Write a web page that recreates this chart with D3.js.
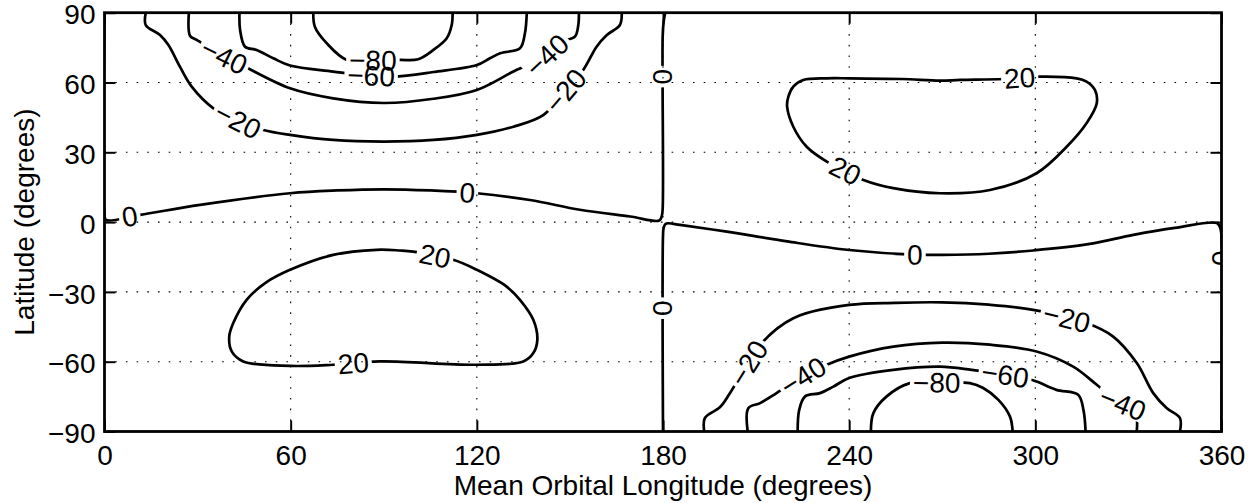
<!DOCTYPE html>
<html>
<head>
<meta charset="utf-8">
<script src="https://cdn.jsdelivr.net/npm/d3@7"></script>
<style>
  body { margin: 0; background: #fff; }
</style>
</head>
<body>
<script>
const width = 1256, height = 503;

const xTicks = [0, 60, 120, 180, 240, 300, 360];
const yTicks = [-90, -60, -30, 0, 30, 60, 90];

// contour paths, [mean orbital longitude, latitude]
const zeroWest = [[0,90],[0,3],[0.5,0.9],[11.5,3.1],[30.8,7.4],[59.8,12.4],[75,13.6],[90,14.1],[105,13.6],[120,12.4],[137.1,9.5],[153.2,5.3],[169.4,2.4],[178.8,0.65],[179.6,2.5],[179.9,6],[179.9,80],[180.2,86],[180.7,90]];
const zeroEast = [[180,-90],[180,-6],[180.2,-2.5],[180.8,-0.8],[181.7,-0.5],[185.5,-1.2],[200,-4],[220,-8.3],[240,-12],[261,-14],[270,-14.1],[285,-13.6],[299.3,-12.2],[317,-9.5],[331.6,-5.5],[345,-2.5],[358.5,-0.4],[359.6,-2.5],[360,-6],[360,-90]];

const pos20South = [[40.2,-49.2],[41.5,-43.4],[45.8,-33.4],[52,-26],[59.8,-20.5],[73.7,-14.1],[87.7,-11.9],[95.2,-12.2],[99.5,-12.7],[112.4,-16.2],[120,-20.5],[129.6,-27.7],[133.9,-33.4],[138.2,-42],[139.5,-50.6],[138.2,-56.3],[135,-59.9],[120,-61.3],[88.8,-59.9],[73.7,-61.3],[59.8,-61.8],[44.7,-59.9],[41,-55.6]];
const pos20North = [[220,49.6],[220.4,53.9],[222,58.2],[225.2,61.1],[232.8,61.8],[240,61.8],[257,61.5],[269.3,60.8],[275.7,61.1],[289.7,61.5],[301.5,62.5],[313.3,61.8],[316.5,60.4],[319.2,56.8],[319.8,51.1],[316.5,42.5],[310.1,32.4],[300.4,21],[285.4,13.8],[269.3,12.4],[254.2,14.6],[244.6,18.1],[232.8,26],[226.3,32.4],[222,41]];

const neg20North = [[13.3,90],[13.3,84.7],[17.9,80.4],[20.6,76.1],[24.3,66.8],[28.1,58.2],[35.1,48.9],[43,43.5],[51.2,39.6],[59.8,37.5],[73.7,35.3],[90,34.6],[106,35.3],[120,37.5],[131.8,41],[141.4,46],[148,55.5],[154.3,65.4],[158.6,75.4],[161.9,80.4],[166.1,84.7],[166.7,90]];
const neg40North = [[27.2,90],[27.6,80],[29.7,78.3],[38,71.5],[44.2,67.5],[59.8,57.5],[73.7,53.2],[90,51.2],[106,53],[120,56.8],[131.8,64.7],[142.5,71.5],[147.3,77.5],[151.6,79.7],[152.7,84.7],[152.9,90]];
const neg60North = [[43.5,90],[43.7,82.6],[45.3,75.4],[49,74],[54.4,70.4],[59.8,67.3],[73.7,64.7],[84,63],[93.1,62.5],[106,64.5],[120,67.5],[124.2,70.4],[127.5,72.6],[133.9,74.7],[135.5,81.2],[136.1,90]];
const neg80North = [[67.3,90],[67.8,84],[71.6,76.9],[78.1,69.7],[88,69.5],[95.2,69.7],[101.1,70],[106,74],[110.3,79],[111.9,84.7],[112.2,90]];

const neg20South = [[193.3,-90],[193.5,-84.2],[198.4,-79.5],[201.6,-73.5],[211.3,-52.7],[222,-41.3],[240,-35.6],[255,-34.7],[270,-34.5],[285,-35.5],[299.3,-37.7],[316.5,-43.4],[325.1,-49.2],[332.7,-60.6],[338,-73.5],[342.3,-79.9],[346.6,-84.2],[346.6,-90]];
const neg40South = [[207.3,-90],[207.5,-80],[211.3,-77.8],[216.6,-73.5],[225.2,-66.3],[232.8,-61.3],[240,-57.8],[254.2,-53.5],[270,-51.8],[285.4,-52.7],[300.4,-55.6],[312.2,-62.1],[319.8,-69.9],[327,-77.5],[331.6,-80],[332.7,-84.2],[332.7,-90]];
const neg60South = [[223.4,-90],[223.9,-80.7],[225.8,-74.9],[230.6,-73.5],[234.9,-70.7],[240,-67],[254.2,-63.5],[269.3,-62.1],[279.5,-63.5],[296.7,-67],[300.4,-68.5],[306.8,-72.1],[313.8,-74.2],[315.5,-80.7],[316.2,-90]];
const neg80South = [[247,-90],[247.8,-82.1],[252.1,-74.9],[259.6,-69.2],[268,-69],[278.9,-69.2],[283.2,-71.3],[288.1,-76.4],[291.8,-83.5],[292.7,-90]];

const contourLines = [
  {level: 0, pts: zeroWest}, {level: 0, pts: zeroEast},
  {level: 20, pts: pos20South, closed: true}, {level: 20, pts: pos20North, closed: true},
  {level: -20, pts: neg20North}, {level: -40, pts: neg40North},
  {level: -60, pts: neg60North}, {level: -80, pts: neg80North},
  {level: -20, pts: neg20South}, {level: -40, pts: neg40South},
  {level: -60, pts: neg60South}, {level: -80, pts: neg80South}
];

// inline label anchors, [lon, lat, level]
const contourLabels = [
  [8.2,1.7,0],[116.9,11.7,0],[261.2,-14.1,0],[180,62.5,0],[180,-37,0],[360,-15.5,0],
  [106.5,-14.8,20],[80.2,-61.3,20],[238.6,21.7,20],[295,61.1,20],
  [42.6,42.5,-20],[149.5,55.4,-20],[207.5,-60.6,-20],[310.1,-41.3,-20],
  [38.3,70.4,-40],[142.5,71.8,-40],[225.2,-66.3,-40],[327.8,-79.2,-40],
  [85.9,61.9,-60],[290.2,-66.3,-60],
  [86.5,69.2,-80],[268.2,-70,-80]
];

const x = d3.scaleLinear().domain([0, 360]).range([104.5, 1221.5]);
const y = d3.scaleLinear().domain([-90, 90]).range([431.5, 12.7]);

const svg = d3.select("body").append("svg")
  .attr("width", width)
  .attr("height", height)
  .style("font-family", "'Liberation Sans', Arial, Helvetica, sans-serif");

const defs = svg.append("defs");
defs.append("clipPath").attr("id", "plotClip")
  .append("rect")
  .attr("x", x(0)).attr("y", y(90))
  .attr("width", x(360) - x(0)).attr("height", y(-90) - y(90));
const gapMask = defs.append("mask").attr("id", "labelGaps")
  .attr("maskUnits", "userSpaceOnUse")
  .attr("x", 0).attr("y", 0).attr("width", width).attr("height", height);
gapMask.append("rect").attr("width", width).attr("height", height).attr("fill", "#fff");

// dotted grid
const grid = svg.append("g").attr("stroke", "#000").attr("stroke-width", 1.1)
  .attr("stroke-dasharray", "1.6,9.1");
grid.selectAll(".gx").data(xTicks.slice(1, -1)).join("line")
  .attr("x1", d => x(d)).attr("x2", d => x(d))
  .attr("y1", y(90)).attr("y2", y(-90));
grid.selectAll(".gy").data(yTicks.slice(1, -1)).join("line")
  .attr("x1", x(0)).attr("x2", x(360))
  .attr("y1", d => y(d)).attr("y2", d => y(d));

// contours
const plot = svg.append("g").attr("clip-path", "url(#plotClip)");
const openLine = d3.line().x(d => x(d[0])).y(d => y(d[1])).curve(d3.curveCatmullRom.alpha(0.5));
const loopLine = d3.line().x(d => x(d[0])).y(d => y(d[1])).curve(d3.curveCatmullRomClosed.alpha(0.5));

plot.append("g").attr("mask", "url(#labelGaps)")
  .selectAll("path").data(contourLines).join("path")
  .attr("d", d => d.closed ? loopLine(d.pts) : openLine(d.pts))
  .attr("fill", "none")
  .attr("stroke", "#000")
  .attr("stroke-width", 2.7)
  .attr("stroke-linejoin", "round");

// snap a label onto its nearest contour segment and take that segment's direction
function placeLabel(lon, lat, level) {
  const px = x(lon), py = y(lat);
  let best = null;
  contourLines.filter(c => c.level === level).forEach(c => {
    const p = c.pts.map(d => [x(d[0]), y(d[1])]);
    if (c.closed) p.push(p[0]);
    for (let i = 0; i < p.length - 1; i++) {
      const [ax, ay] = p[i], [bx, by] = p[i + 1];
      const dx = bx - ax, dy = by - ay;
      const L2 = dx * dx + dy * dy || 1;
      const t = Math.max(0, Math.min(1, ((px - ax) * dx + (py - ay) * dy) / L2));
      const qx = ax + t * dx, qy = ay + t * dy;
      const dist = Math.hypot(px - qx, py - qy);
      if (!best || dist < best.dist) best = {dist, qx, qy, ang: Math.atan2(dy, dx) * 180 / Math.PI};
    }
  });
  let a = best.ang;
  if (a > 90) a -= 180;
  if (a <= -90) a += 180;
  return {x: best.qx, y: best.qy, angle: a};
}

const fmt = v => v < 0 ? "\u2212" + Math.abs(v) : String(v);
const labelLayer = plot.append("g").attr("font-size", 28).attr("fill", "#000");

contourLabels.forEach(([lon, lat, level]) => {
  const pl = placeLabel(lon, lat, level);
  const tf = `translate(${pl.x},${pl.y}) rotate(${pl.angle})`;
  const t = labelLayer.append("text")
    .attr("transform", tf)
    .attr("text-anchor", "middle")
    .attr("dy", "0.35em")
    .text(fmt(level));
  const len = t.node().getComputedTextLength();
  gapMask.append("rect")
    .attr("transform", tf)
    .attr("x", -len / 2 - 3).attr("y", -11)
    .attr("width", len + 6).attr("height", 22)
    .attr("fill", "#000");
});

// axes box, inward ticks on all sides
const axisStyle = g => {
  g.select(".domain").remove();
  g.selectAll(".tick line").attr("stroke", "#000").attr("stroke-width", 2);
  g.selectAll("text").attr("font-size", 28).attr("fill", "#000")
    .attr("font-family", "'Liberation Sans', Arial, Helvetica, sans-serif");
};

svg.append("g").attr("transform", `translate(0,${y(-90)})`)
  .call(d3.axisBottom(x).tickValues(xTicks).tickSize(-11).tickPadding(13.5))
  .call(axisStyle);
svg.append("g").attr("transform", `translate(0,${y(90)})`)
  .call(d3.axisTop(x).tickValues(xTicks).tickSize(-11).tickFormat(""))
  .call(axisStyle);
svg.append("g").attr("transform", `translate(${x(0)},0)`)
  .call(d3.axisLeft(y).tickValues(yTicks).tickSize(-11).tickPadding(9))
  .call(axisStyle)
  .call(g => g.selectAll("text").attr("dy", "0.4em"));
svg.append("g").attr("transform", `translate(${x(360)},0)`)
  .call(d3.axisRight(y).tickValues(yTicks).tickSize(-11).tickFormat(""))
  .call(axisStyle);

svg.append("rect")
  .attr("x", x(0)).attr("y", y(90))
  .attr("width", x(360) - x(0)).attr("height", y(-90) - y(90))
  .attr("fill", "none").attr("stroke", "#000").attr("stroke-width", 2.8);

svg.append("text")
  .attr("x", (x(0) + x(360)) / 2).attr("y", 495)
  .attr("text-anchor", "middle").attr("font-size", 28)
  .text("Mean Orbital Longitude (degrees)");

svg.append("text")
  .attr("transform", `translate(34,${(y(90) + y(-90)) / 2}) rotate(-90)`)
  .attr("text-anchor", "middle").attr("font-size", 28)
  .text("Latitude (degrees)");
</script>
</body>
</html>
